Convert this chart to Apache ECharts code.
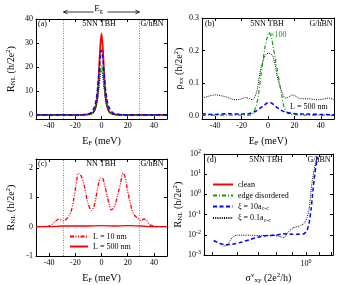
<!DOCTYPE html>
<html><head><meta charset="utf-8">
<script src="https://cdn.jsdelivr.net/npm/echarts@6/dist/echarts.min.js"></script>
<style>html,body{margin:0;padding:0;background:#fff}#c{width:343px;height:285px}</style>
</head><body><div id="c"></div>
<script>
const FONT = 'Liberation Serif';
// ---------- panel (a): R_NL vs E_F, 5NN TBH
const aE     = [-50,-40,-30,-20,-15,-10,-8,-6,-5,-4,-3,-2,-1,0,1,2,3,4,5,6,8,10,15,20,30,40,50];
const aRed   = [0,0,0,0,0,0.2,0.5,1.3,2.5,4.5,9,17,28,34,28,17,9,4.5,2.5,1.3,0.5,0.2,0,0,0,0,0];
const aBlue  = [0,0,0,0,0.05,0.4,1,2.5,4,6.5,11,17.5,24,27,24,17.5,11,6.8,4.3,2.8,1.2,0.5,0.1,0,0,0,0];
const aGreen = [0,0,0,0,0,0.1,0.4,1.2,2.2,4,7,12.5,18,20.8,18,12.5,7,4,2.2,1.2,0.4,0.1,0,0,0,0,0];
const aBlack = [0,0,0,0,0,0.1,0.4,1,2,3.6,6.2,11,16,18.5,16,11,6.2,3.6,2,1,0.4,0.1,0,0,0,0,0];
const edgeLines = [-29, 29];
const aYTicks = [0,10,20,30,40];
const eTicks = [-40,-20,0,20,40];
// ---------- panel (b): rho_xx vs E_F
const bBlackE = [-50,-45,-40,-35,-31,-28,-24.8,-20,-17,-14,-12,-10,-8.2,-5.7,-3.5,-1.9,0.6,2,3.7,5.5,7,9,10.8,13.3,16,18.4,21,23.5,27,31,35,38.7,42,46,50];
const bBlack  = [0.054,0.060,0.064,0.061,0.057,0.052,0.049,0.052,0.056,0.053,0.049,0.058,0.08,0.141,0.172,0.187,0.192,0.19,0.182,0.155,0.12,0.09,0.07,0.054,0.058,0.064,0.06,0.054,0.052,0.052,0.05,0.049,0.051,0.054,0.05];
const bGreenE = [-50,-40,-30,-20,-15,-12,-9,-7,-5.5,-4,-2.5,-0.6,0.6,1.5,2.7,4,5.7,7,8.8,10.5,12,14,15.8,20,30,40,50];
const bGreen  = [0.002,0.002,0.002,0.002,0.002,0.004,0.03,0.07,0.12,0.162,0.205,0.24,0.256,0.252,0.238,0.21,0.172,0.14,0.1,0.06,0.029,0.012,0.006,0.003,0.002,0.002,0.002];
const bBlueE  = [-50,-40,-30,-20,-15,-11.4,-8.5,-5.7,-3,-0.6,1.9,4,5.7,8,10.8,14,18.4,25,30,40,50];
const bBlue   = [0.006,0.004,0.006,0.005,0.006,0.01,0.016,0.024,0.032,0.039,0.04,0.035,0.029,0.022,0.015,0.01,0.007,0.005,0.005,0.004,0.003];
const bYTicks = [0,0.1,0.2,0.3];
// ---------- panel (c): R_NL vs E_F, NN TBH
const cE10  = [-50,-45,-40.5,-38,-35.4,-32.8,-29,-25.2,-23,-21.3,-19.5,-17.5,-15.5,-13.6,-12,-10.3,-7.7,-6,-4.6,-2.5,-0.8,1,2.5,4.4,6,7.4,9,10.8,12.5,14.6,16.4,18,19.8,22,23.6,25.5,27.5,30,32.6,34.5,36.4,39,41.5,45,50];
const c10   = [0,0,0.02,0.07,0.17,0.25,0.2,0.34,0.55,0.91,1.4,1.82,1.72,1.48,1.15,0.8,0.55,0.65,0.91,1.4,1.65,1.63,1.4,1.02,0.75,0.57,0.62,0.8,1.1,1.48,1.82,1.7,1.25,0.8,0.51,0.37,0.29,0.2,0.26,0.2,0.08,0.03,0,0,0];
const cE500 = [-50,-40,-30,-20,-10,0,10,20,30,40,50];
const c500  = [0,0,0.02,0.02,0.02,0.03,0.02,0.03,0.02,0,0];
const cYTicks = [-1,0,1,2];
// ---------- panel (d): R_NL vs sigma_xy^v (log-log)
const dBlackX = [0.544,0.560,0.581,0.599,0.660,0.721,0.783,0.824,0.849,0.875,0.908,0.956,0.985,1.007,1.023,1.034,1.046,1.061,1.077,1.089];
const dBlackY = [0.00266,0.0035,0.00765,0.0096,0.0096,0.00905,0.0096,0.0081,0.0072,0.0134,0.022,0.0275,0.036,0.071,0.193,1.02,4.4,16.5,50,88];
const dBlueX  = [0.505,0.528,0.552,0.586,0.622,0.660,0.700,0.743,0.800,0.849,0.901,0.949,0.985,1.007,1.023,1.038,1.049,1.061,1.073,1.085,1.093];
const dBlueY  = [0.0052,0.0037,0.00315,0.0035,0.0044,0.0058,0.00765,0.00905,0.0096,0.0113,0.0107,0.0107,0.0113,0.0167,0.041,0.193,1.02,5.4,20.6,50,70];
const dXTicks = [0.5,0.6,0.7,0.8,0.9,1,1.1,1.2];
const dXLabels = [1];

const pairs = (xs, ys) => xs.map((x, i) => [x, ys[i]]);

const RICH = {
  i: {fontFamily: FONT, fontSize: 10, color: '#000'},
  s: {fontFamily: FONT, fontSize: 7, color: '#000', padding: [5, 0, 0, 0]},
  p: {fontFamily: FONT, fontSize: 7, color: '#000', padding: [0, 0, 5, 0]}
};
const LRICH = {
  b: {fontFamily: FONT, fontSize: 8, color: '#000'},
  s: {fontFamily: FONT, fontSize: 6, color: '#000', padding: [0, 0, 5, 0]}
};

function axis(kind, gi, pos, o) {
  const main = (pos === 'bottom' || pos === 'left');
  const a = {
    type: o.type || 'value', gridIndex: gi, position: pos, min: o.min, max: o.max,
    axisLine: {onZero: false, lineStyle: {color: '#000', width: 1}},
    axisTick: {inside: true, length: 3, lineStyle: {color: '#000', width: 1}},
    splitLine: {show: false},
    axisLabel: {show: main, fontFamily: FONT, fontSize: 8, color: '#000', margin: 3},
  };
  if (o.ticks) { a.axisTick.customValues = o.ticks; a.axisLabel.customValues = o.labels || o.ticks; }
  if (o.fmt) a.axisLabel.formatter = o.fmt;
  if (o.rich) a.axisLabel.rich = o.rich;
  if (main && o.name) {
    a.name = o.name; a.nameLocation = 'middle'; a.nameGap = o.gap;
    a.nameTextStyle = {fontFamily: FONT, fontSize: 10, color: '#000', rich: RICH};
    if (kind === 'y') a.nameRotate = 90;
  }
  if (o.logBase) a.logBase = o.logBase;
  return a;
}

const xName = '{i|E}{s|F}{i| (meV)}';
const rName = '{i|R}{s|NL}{i| (h/2e}{p|2}{i|)}';
const logFmt = v => '{b|10}{s|' + Math.round(Math.log10(v)) + '}';

const xA = {min: -50, max: 50, ticks: eTicks, name: xName, gap: 16};
const xAxes = [
  axis('x', 0, 'bottom', xA), axis('x', 0, 'top', xA),
  axis('x', 1, 'bottom', xA), axis('x', 1, 'top', xA),
  axis('x', 2, 'bottom', xA), axis('x', 2, 'top', xA),
  axis('x', 3, 'bottom', {type: 'log', min: 0.47, max: 1.22, ticks: dXTicks, labels: dXLabels, fmt: logFmt, rich: LRICH, name: '{i|σ}{p|v}{s|xy}{i| (2e}{p|2}{i|/h)}', gap: 17}),
  axis('x', 3, 'top', {type: 'log', min: 0.47, max: 1.22, ticks: dXTicks})
];
const yA = {min: -1.7, max: 40, ticks: aYTicks, name: rName, gap: 19};
const yB = {min: -0.01, max: 0.3, ticks: bYTicks, fmt: v => v.toFixed(1), name: '{i|ρ}{s|xx}{i| (h/2e}{p|2}{i|)}', gap: 15};
const yC = {min: -1, max: 2.3, ticks: cYTicks, name: rName, gap: 19};
const yD = {type: 'log', min: 0.001, max: 100, fmt: logFmt, rich: LRICH, name: rName, gap: 15};
const yAxes = [
  axis('y', 0, 'left', yA), axis('y', 0, 'right', yA),
  axis('y', 1, 'left', yB), axis('y', 1, 'right', yB),
  axis('y', 2, 'left', yC), axis('y', 2, 'right', yC),
  axis('y', 3, 'left', yD), axis('y', 3, 'right', yD)
];

const RED = '#ff0000', BLUE = '#0000ff', GREEN = '#119911', BLACK = '#000000';
function line(name, p, data, color, type, width, smooth, extra) {
  return Object.assign({
    name, type: 'line', xAxisIndex: 2 * p, yAxisIndex: 2 * p, data, symbol: 'none',
    smooth: smooth, animation: false,
    lineStyle: {color, type, width}, itemStyle: {color}
  }, extra || {});
}
const vlines = {markLine: {silent: true, symbol: 'none', label: {show: false}, animation: false,
  lineStyle: {color: '#666', type: [1, 1.5], width: 0.8}, data: edgeLines.map(v => ({xAxis: v}))}};

const series = [
  line('a-red', 0, pairs(aE, aRed), RED, 'solid', 1.8, 0.3, vlines),
  line('a-green', 0, pairs(aE, aGreen), GREEN, [4, 2, 1, 2], 1.3, 0.3),
  line('a-black', 0, pairs(aE, aBlack), BLACK, [1, 1.2], 1, 0.3),
  line('a-blue', 0, pairs(aE, aBlue), BLUE, [4, 2.5], 1.5, 0.3),
  line('b-black', 1, pairs(bBlackE, bBlack), BLACK, [1, 1.2], 1, 0.3),
  line('b-green', 1, pairs(bGreenE, bGreen), GREEN, [4, 2, 1, 2], 1.2, 0.3),
  line('b-blue', 1, pairs(bBlueE, bBlue), BLUE, [4, 2.5], 1.5, 0.3),
  line('L = 10 nm', 2, pairs(cE10, c10), RED, [4, 1.5, 1, 1.5, 1, 1.5], 1.3, 0.3, vlines),
  line('L = 500 nm', 2, pairs(cE500, c500), RED, 'solid', 1.3, 0.3),
  line('clean', 3, [], RED, 'solid', 1, false),
  line('edge disordered', 3, [], GREEN, [4, 2, 1, 2], 1.2, false),
  line('ξ = 10a', 3, pairs(dBlueX, dBlueY), BLUE, [4, 2.5], 1.5, 0.2),
  line('ξ = 0.1a', 3, pairs(dBlackX, dBlackY), BLACK, [1, 1.2], 1, 0.2)
];

const legTS = {fontFamily: FONT, fontSize: 8, color: '#000', lineHeight: 9, rich: {s: {fontFamily: FONT, fontSize: 6, color: '#000', padding: [4, 0, 0, 0]}}};
const legCommon = {orient: 'vertical', itemHeight: 9, padding: 0, textStyle: legTS, selectedMode: false, itemStyle: {opacity: 0, borderWidth: 0}};
const legends = [
  Object.assign({data: ['L = 10 nm', 'L = 500 nm'], left: 69, top: 232, itemWidth: 18, itemGap: 1}, legCommon),
  Object.assign({data: ['clean', 'edge disordered', 'ξ = 10a', 'ξ = 0.1a'], left: 212, top: 180, itemWidth: 20, itemGap: 2,
   formatter: n => n.startsWith('ξ') ? n + '{s|c-c}' : n}, legCommon)
];

function txt(x, y, s, align, color) {
  return {type: 'text', x, y, silent: true, style: {text: s, fontFamily: FONT, fontSize: 8, fill: color || '#000', align: align || 'center', verticalAlign: 'middle'}};
}
const graphics = [
  txt(38, 24, '(a)', 'left'), txt(99, 24, '5NN TBH'), txt(152, 24, 'G/hBN'),
  txt(205, 24, '(b)', 'left'), txt(267, 24, '5NN TBH'), txt(321, 24, 'G/hBN'),
  txt(270, 35, '×100', 'left', GREEN), txt(290, 107, 'L = 500 nm', 'left'),
  txt(38, 164, '(c)', 'left'), txt(101, 164, 'NN TBH'), txt(152, 164, 'G/hBN'),
  txt(207, 160, '(d)', 'left'), txt(266, 160, '5NN TBH'), txt(319, 160, 'G/hBN')
];

const chart = echarts.init(document.getElementById('c'), null, {renderer: 'canvas'});
chart.setOption({
  animation: false, backgroundColor: '#fff',
  grid: [
    {left: 36, top: 19, width: 131, height: 100},
    {left: 202, top: 18, width: 132, height: 101},
    {left: 36, top: 159, width: 131, height: 97},
    {left: 204, top: 154, width: 129, height: 103}
  ],
  xAxis: xAxes, yAxis: yAxes, series, legend: legends, graphic: graphics
});

// E_g arrow spanning the edge-line positions above panel (a)
const x1 = chart.convertToPixel({xAxisIndex: 0}, edgeLines[0]);
const x2 = chart.convertToPixel({xAxisIndex: 0}, edgeLines[1]);
const ay = 12, st = {stroke: '#000', lineWidth: 0.8, fill: null};
graphics.push(
  {type: 'line', shape: {x1, y1: ay, x2, y2: ay}, style: st, silent: true},
  {type: 'polyline', shape: {points: [[x1 + 4, ay - 1.8], [x1, ay], [x1 + 4, ay + 1.8]]}, style: st, silent: true},
  {type: 'polyline', shape: {points: [[x2 - 4, ay - 1.8], [x2, ay], [x2 - 4, ay + 1.8]]}, style: st, silent: true},
  {type: 'rect', shape: {x: (x1 + x2) / 2 - 8, y: 2, width: 14, height: 14}, style: {fill: '#fff'}, silent: true},
  {type: 'text', x: (x1 + x2) / 2 - 3, y: 9, silent: true, style: {text: '{i|E}{s|g}', rich: {i: {fontFamily: FONT, fontSize: 9, fill: '#000'}, s: {fontFamily: FONT, fontSize: 6, fill: '#000', padding: [5, 0, 0, 0]}}, align: 'center', verticalAlign: 'middle'}}
);
chart.setOption({graphic: graphics});
</script></body></html>
